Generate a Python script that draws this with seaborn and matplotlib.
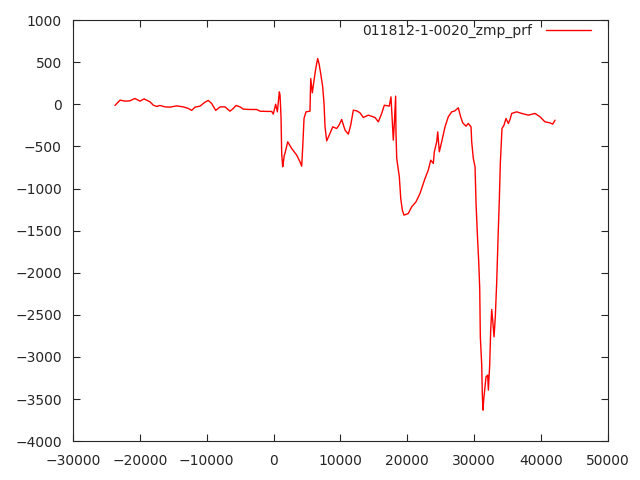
import pandas as pd
import matplotlib
matplotlib.use("Agg")
import matplotlib.pyplot as plt
import seaborn as sns

# profile values
x_vals = [-23716, -22960, -22200, -21480, -20740, -19970, -19380, -18480, -17990, -17480,
          -16990, -16240, -15490, -14490, -13500, -12750, -12250, -11750, -11000, -10260,
          -9760, -9260, -8660, -8010, -7270, -6520, -6030, -5620, -5020, -4530,
          -3530, -2530, -2030, -1030, -280, -45, 310, 560, 860, 960,
          1110, 1210, 1360, 1410, 1600, 1700, 2110, 2700, 3450, 3950,
          4200, 4350, 4550, 4840, 5440, 5550, 5790, 6190, 6440, 6590,
          6800, 7040, 7340, 7540, 7690, 7940, 8430, 8840, 9430, 9780,
          10180, 10680, 11170, 11530, 11920, 12430, 12920, 13420, 14160, 15160,
          15660, 16160, 16560, 17300, 17550, 17750, 17900, 18050, 18250, 18300,
          18410, 18800, 19010, 19250, 19500, 20140, 20650, 21290, 21890, 22640,
          23130, 23490, 23880, 24030, 24390, 24540, 24780, 25130, 25630, 26120,
          26630, 27120, 27620, 27970, 28280, 28770, 29110, 29520, 29620, 29860,
          30120, 30270, 30460, 30670, 30820, 30910, 31120, 31210, 31310, 31410,
          31610, 31760, 32010, 32110, 32310, 32460, 32610, 32760, 32960, 33150,
          33360, 33550, 33750, 33900, 34150, 34450, 34750, 35100, 35350, 35600,
          36350, 37100, 38090, 39090, 39840, 40580, 41330, 41730, 42080]
y_vals = [-13, 50, 38, 42, 70, 38, 65, 30, -10, -25,
          -13, -30, -33, -18, -30, -49, -72, -33, -21, 26,
          46, 11, -72, -30, -30, -81, -49, -13, -30, -57,
          -61, -61, -81, -84, -84, -116, 2, -89, 148, 110,
          -149, -583, -742, -720, -603, -583, -445, -524, -603, -683,
          -734, -512, -167, -89, -81, 307, 137, 367, 486, 545,
          480, 367, 208, 11, -267, -434, -346, -267, -287, -247,
          -180, -306, -354, -247, -69, -77, -101, -156, -128, -156,
          -208, -108, -10, -21, 89, -208, -425, -227, 97, -346,
          -643, -861, -1118, -1257, -1316, -1296, -1217, -1158, -1058, -880,
          -781, -663, -702, -564, -445, -327, -564, -445, -267, -148,
          -89, -77, -41, -148, -220, -259, -227, -267, -445, -643,
          -742, -1177, -1533, -1871, -2187, -2761, -3097, -3454, -3632, -3513,
          -3355, -3236, -3216, -3394, -3097, -2682, -2436, -2563, -2761, -2524,
          -2108, -1613, -1138, -702, -287, -247, -168, -227, -180, -108,
          -89, -108, -128, -108, -148, -208, -220, -235, -188]
series_name = "011812-1-0020_zmp_prf"

df = pd.DataFrame({"x": x_vals, "y": y_vals, "series": series_name})

sns.set_style("ticks")
plt.rcParams["font.family"] = ["DejaVu Sans"]

fig = plt.figure(figsize=(6.4, 4.8), dpi=100)
ax = fig.add_axes([0.114, 0.081, 0.836, 0.877])
sns.lineplot(data=df, x="x", y="y", hue="series", palette=["#ff0000"],
             sort=False, estimator=None, linewidth=1, ax=ax)

ax.set_xlim(-30000, 50000)
ax.set_ylim(-4000, 1000)
ax.set_xticks(range(-30000, 50001, 10000))
ax.set_yticks(range(-4000, 1001, 500))
ax.set_xlabel("")
ax.set_ylabel("")
ax.tick_params(direction="in", top=True, right=True, length=5, labelsize=10, width=0.8)
ax.tick_params(axis="x", pad=9)
ax.tick_params(axis="y", pad=8)
for sp in ax.spines.values():
    sp.set_linewidth(0.8)
    sp.set_visible(True)

ax.legend(loc="upper right", bbox_to_anchor=(0.978, 1.005), frameon=False,
          markerfirst=False, fontsize=10, handlelength=3.2, handletextpad=1.0,
          borderaxespad=0.0)

fig.savefig("out.png", dpi=100)
